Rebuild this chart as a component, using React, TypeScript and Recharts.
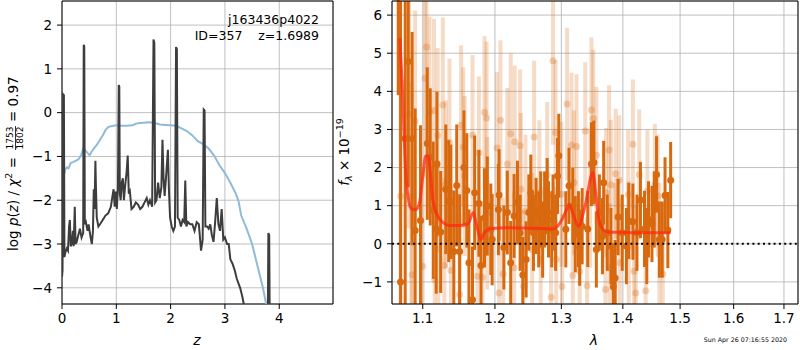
import React from "react";
import {
  LineChart,
  ComposedChart,
  Line,
  Scatter,
  ErrorBar,
  XAxis,
  YAxis,
  CartesianGrid,
  ReferenceLine,
  ReferenceArea,
} from "recharts";

const FONT = "'DejaVu Sans', sans-serif";
const ORANGE = "#d9690f";
const GRID = "#b0b0b0";

// left panel: [z, log p(z)]
const PZ_CURVE: [number, number][] = [
  [0.0, -3.75], [0.01, -3.6], [0.02, 0.42], [0.035, 0.4], [0.045, -3.3], [0.06, -3.2],
  [0.09, -3.1], [0.11, -3.15], [0.13, -2.6], [0.145, -2.45], [0.16, -3.05], [0.18, -3.0],
  [0.2, -2.7], [0.215, -3.05], [0.235, -2.15], [0.25, -3.0], [0.27, -2.95], [0.3, -2.8],
  [0.33, -2.65], [0.36, -2.85], [0.39, -2.75], [0.4, 1.55], [0.41, 1.5], [0.42, -2.55],
  [0.44, -2.5], [0.47, -2.7], [0.49, -2.55], [0.52, -2.8], [0.55, -3.0], [0.57, -2.7],
  [0.585, -1.75], [0.6, -2.2], [0.615, -1.1], [0.625, -1.7], [0.64, -2.4], [0.67, -2.6],
  [0.7, -2.55], [0.75, -2.45], [0.8, -2.35], [0.85, -2.3], [0.9, -2.15], [0.93, -1.9],
  [0.95, -1.75], [0.97, -2.15], [0.99, -1.8], [1.01, -2.2], [1.03, -1.7], [1.045, 0.63],
  [1.055, 0.6], [1.065, -1.85], [1.08, -2.0], [1.1, -1.6], [1.12, -1.5], [1.14, -2.0],
  [1.16, -1.7], [1.19, -1.35], [1.21, -0.98], [1.23, -1.85], [1.25, -1.8], [1.28, -2.2],
  [1.32, -2.15], [1.36, -2.05], [1.4, -2.1], [1.44, -2.2], [1.48, -2.15], [1.52, -2.05],
  [1.56, -1.95], [1.59, -2.1], [1.62, -2.0], [1.66, -2.15], [1.685, 1.67], [1.7, 1.6],
  [1.715, -2.05], [1.74, -2.0], [1.77, -1.6], [1.8, -1.95], [1.83, -1.7], [1.85, -0.62],
  [1.87, -1.5], [1.89, -1.9], [1.92, -1.4], [1.95, -0.85], [1.97, -1.8], [1.99, -2.4],
  [2.02, -2.6], [2.05, -2.7], [2.08, -2.6], [2.1, 1.5], [2.115, 1.45], [2.13, -2.4],
  [2.16, -2.45], [2.19, -2.6], [2.22, -2.45], [2.25, -2.5], [2.27, -1.55], [2.29, -2.6],
  [2.32, -2.5], [2.36, -2.55], [2.4, -2.55], [2.44, -2.7], [2.48, -2.5], [2.52, -2.55],
  [2.56, -3.15], [2.59, -2.9], [2.61, 0.07], [2.625, 0.05], [2.64, -2.6], [2.67, -2.6],
  [2.7, -2.65], [2.73, -2.55], [2.76, -2.8], [2.79, -2.95], [2.82, -2.5], [2.85, -1.95],
  [2.88, -2.55], [2.91, -2.7], [2.94, -2.2], [2.97, -2.9], [3.0, -2.85], [3.04, -3.0],
  [3.07, -3.0], [3.1, -3.35], [3.14, -3.45], [3.18, -3.6], [3.22, -3.8], [3.28, -4.0],
  [3.32, -4.2], [3.36, -4.45], [3.4, -4.7], [3.79, -4.7], [3.8, -2.75], [3.815, -2.8],
  [3.825, -4.7],
];

// left panel: [z, scaled chi2]
const CHI2_CURVE: [number, number][] = [
  [0.0, -1.95], [0.01, -1.75], [0.03, -1.45], [0.06, -1.3], [0.09, -1.25], [0.12, -1.27],
  [0.16, -1.15], [0.2, -1.13], [0.25, -1.1], [0.3, -1.07], [0.35, -0.98], [0.39, -0.82],
  [0.42, -0.85], [0.47, -0.92], [0.51, -0.97], [0.55, -0.88], [0.6, -0.8], [0.65, -0.72],
  [0.7, -0.62], [0.75, -0.52], [0.8, -0.4], [0.85, -0.33], [0.9, -0.31], [1.0, -0.29],
  [1.1, -0.3], [1.2, -0.3], [1.3, -0.29], [1.35, -0.26], [1.4, -0.24], [1.5, -0.23],
  [1.6, -0.22], [1.7, -0.23], [1.8, -0.27], [1.9, -0.28], [2.0, -0.29], [2.1, -0.3],
  [2.2, -0.36], [2.3, -0.42], [2.4, -0.52], [2.5, -0.65], [2.6, -0.72], [2.7, -0.82],
  [2.8, -0.98], [2.9, -1.2], [3.0, -1.38], [3.1, -1.6], [3.2, -1.85], [3.25, -2.02],
  [3.3, -2.35], [3.4, -2.65], [3.5, -3.0], [3.6, -3.5], [3.7, -4.0], [3.78, -4.5],
];

const Z_TICKS = [0, 1, 2, 3, 4];
const LOGP_TICKS = [-4, -3, -2, -1, 0, 1, 2];
const LAM_TICKS = [1.1, 1.2, 1.3, 1.4, 1.5, 1.6, 1.7];
const FLUX_TICKS = [-1, 0, 1, 2, 3, 4, 5, 6];

// right panel, fitted spectrum: [lambda, flux, err]
const SPEC_MAIN: [number, number, number][] = [
  [1.068, 6.5, 2.6], [1.071, -1.0, 7.5], [1.077, 2.76, 4.5], [1.081, 4.78, 3.3],
  [1.086, 2.76, 2.8], [1.09, 0.35, 3.2], [1.097, 0.61, 2.5], [1.106, 2.63, 2.0],
  [1.11, 2.28, 1.8], [1.114, 0.88, 1.8], [1.118, 0.39, 1.7], [1.119, 2.09, 1.9],
  [1.124, 0.31, 1.6], [1.131, 1.43, 1.7], [1.135, 1.12, 1.6], [1.138, 1.1, 1.5],
  [1.142, -0.2, 1.6], [1.146, 1.53, 1.6], [1.15, -0.2, 1.5], [1.156, 2.0, 1.5],
  [1.16, 1.4, 1.5], [1.163, -0.5, 1.4], [1.168, -1.47, 1.4], [1.171, 1.34, 1.5],
  [1.177, 1.06, 1.4], [1.18, -0.57, 1.3], [1.185, 0.68, 1.3], [1.189, 0.99, 1.3],
  [1.194, 0.38, 1.2], [1.196, 0.11, 1.2], [1.205, 0.9, 1.2], [1.206, 1.28, 1.2],
  [1.213, -0.1, 1.1], [1.218, 0.82, 1.1], [1.223, -0.5, 1.1], [1.228, 0.73, 1.1],
  [1.233, 1.08, 1.1], [1.237, 0.29, 1.0], [1.241, -0.82, 1.0], [1.246, -0.41, 1.0],
  [1.25, 0.82, 1.0], [1.253, 1.34, 1.0], [1.257, 0.29, 1.0], [1.261, 0.73, 1.0],
  [1.265, 0.38, 1.0], [1.268, 0.9, 1.0], [1.271, 0.11, 1.0], [1.274, 0.9, 1.0],
  [1.278, 1.25, 1.0], [1.28, 0.64, 1.0], [1.285, 0.38, 1.0], [1.287, 0.82, 1.0],
  [1.291, 0.29, 1.0], [1.294, 1.78, 1.0], [1.296, 2.31, 1.1], [1.307, 0.38, 1.0],
  [1.312, 1.52, 1.0], [1.318, 0.99, 1.0], [1.322, 0.25, 1.0], [1.327, 0.38, 1.0],
  [1.329, -0.1, 1.0], [1.333, 0.46, 1.0], [1.342, 0.39, 1.0], [1.348, 2.09, 1.1],
  [1.352, 2.13, 1.1], [1.356, -0.15, 1.0], [1.361, 0.82, 1.0], [1.366, 0.2, 1.0],
  [1.368, 1.6, 1.1], [1.374, 0.29, 1.0], [1.38, -0.06, 1.0], [1.384, -1.13, 1.0],
  [1.387, -0.9, 1.0], [1.392, 0.7, 1.0], [1.399, 0.29, 1.0], [1.406, -0.06, 1.0],
  [1.41, 0.6, 1.0], [1.417, 0.58, 1.0], [1.424, 0.29, 1.0], [1.43, 1.15, 1.0],
  [1.437, 0.39, 1.0], [1.441, -0.06, 1.0], [1.444, 0.64, 1.0], [1.45, 0.52, 1.0],
  [1.454, 0.9, 1.0], [1.458, 1.82, 1.0], [1.463, 0.11, 1.0], [1.468, 0.11, 1.0],
  [1.473, 1.27, 1.0], [1.478, 0.36, 1.0], [1.483, 1.67, 1.0],
];

// right panel, faint spectrum: [lambda, flux, err]
const SPEC_FAINT: [number, number, number][] = [
  [1.071, 1.25, 3.5], [1.082, 3.4, 3.0], [1.085, 1.25, 3.0], [1.086, -0.81, 3.0],
  [1.09, 3.22, 2.9], [1.1, -0.59, 2.6], [1.103, 4.34, 2.6], [1.105, 5.16, 2.6],
  [1.109, 3.46, 2.5], [1.115, 3.5, 2.4], [1.116, -0.94, 2.4], [1.12, 2.84, 2.3],
  [1.121, -0.13, 2.3], [1.127, 3.64, 2.3], [1.129, -0.57, 2.3], [1.131, 1.56, 2.2],
  [1.136, 2.66, 2.2], [1.138, -0.7, 2.2], [1.15, -1.33, 2.1], [1.152, 3.11, 2.1],
  [1.155, 2.53, 2.1], [1.157, 1.78, 2.1], [1.168, 2.85, 2.1], [1.175, -0.85, 2.0],
  [1.177, 2.39, 2.0], [1.182, -0.88, 2.0], [1.185, 3.45, 2.0], [1.188, 3.3, 2.0],
  [1.189, 0.8, 2.0], [1.203, 2.51, 2.0], [1.206, -1.29, 2.0], [1.208, 3.24, 2.1],
  [1.212, -0.79, 2.0], [1.218, 2.09, 2.0], [1.223, 2.89, 2.1], [1.228, -0.63, 2.0],
  [1.229, 2.68, 2.0], [1.237, 2.57, 2.0], [1.238, 1.43, 2.0], [1.242, -1.12, 2.0],
  [1.245, 0.86, 2.0], [1.255, -0.15, 2.0], [1.258, 2.8, 2.0], [1.266, 1.34, 1.9],
  [1.268, -0.41, 1.9], [1.278, 1.82, 1.9], [1.284, -1.4, 1.9], [1.287, 4.8, 2.2],
  [1.291, 2.92, 1.9], [1.292, -0.41, 1.9], [1.3, 1.3, 1.9], [1.301, -1.12, 1.9],
  [1.309, 3.67, 2.0], [1.316, 2.59, 1.9], [1.318, -0.83, 1.9], [1.32, 1.6, 1.9],
  [1.324, 2.55, 1.9], [1.329, -0.72, 1.9], [1.338, 2.96, 1.8], [1.341, -1.1, 1.8],
  [1.346, 1.17, 1.8], [1.348, 3.51, 1.9], [1.351, 3.29, 1.8], [1.356, 2.32, 1.8],
  [1.371, -1.2, 1.7], [1.372, 1.34, 1.7], [1.377, 2.46, 1.7], [1.378, -0.63, 1.7],
  [1.38, 1.55, 1.7], [1.387, -0.1, 1.7], [1.388, 1.84, 1.7], [1.394, 1.67, 1.7],
  [1.395, -0.5, 1.7], [1.409, 1.29, 1.7], [1.41, -0.06, 1.7], [1.417, 2.61, 1.7],
  [1.419, -0.72, 1.7], [1.422, -1.29, 1.7], [1.428, 1.82, 1.7], [1.439, -1.23, 1.6],
  [1.442, 1.38, 1.6], [1.455, 1.55, 1.6], [1.46, 1.26, 1.6], [1.463, 0.0, 1.6],
  [1.469, -0.79, 1.6],
];

// right panel, best-fit model: [lambda, flux]
const MODEL: [number, number][] = [
  [1.07, 5.4], [1.072, 4.6], [1.074, 3.8], [1.077, 2.1], [1.081, 1.2], [1.085, 0.92],
  [1.091, 0.9], [1.096, 1.1], [1.1, 1.75], [1.104, 2.3], [1.107, 2.3], [1.11, 1.9],
  [1.113, 1.2], [1.118, 0.82], [1.127, 0.56], [1.136, 0.48], [1.15, 0.48], [1.162, 0.53],
  [1.169, 0.82], [1.173, 0.55], [1.18, 0.12], [1.185, 0.3], [1.194, 0.4], [1.22, 0.42],
  [1.25, 0.41], [1.27, 0.4], [1.288, 0.39], [1.298, 0.55], [1.307, 0.85], [1.312, 1.03],
  [1.318, 0.8], [1.325, 0.5], [1.327, 0.46], [1.335, 0.82], [1.341, 1.25], [1.346, 1.69],
  [1.35, 1.87], [1.355, 1.34], [1.36, 0.64], [1.368, 0.36], [1.377, 0.31], [1.4, 0.3],
  [1.44, 0.29], [1.483, 0.29],
];

const Z_DOMAIN: [number, number] = [0, 4.99];
const LOGP_DOMAIN: [number, number] = [-4.37, 2.55];
const LAM_DOMAIN: [number, number] = [1.06, 1.729];
const FLUX_DOMAIN: [number, number] = [-1.58, 6.37];

// error bars are cut at the frame, like matplotlib's clipping
const clipErr = (f: number, e: number) => [
  Math.max(0, Math.min(e, f - FLUX_DOMAIN[0])),
  Math.max(0, Math.min(e, FLUX_DOMAIN[1] - f)),
];

const pz = PZ_CURVE.map(([z, v]) => ({ z, v }));
const chi2 = CHI2_CURVE.map(([z, v]) => ({ z, v }));
const specMain = SPEC_MAIN.map(([w, f, e]) => ({ w, f, e: clipErr(f, e) }));
const specFaint = SPEC_FAINT.map(([w, f, e]) => ({ w, f, e: clipErr(f, e) }));
const model = MODEL.map(([w, f]) => ({ w, f }));

const minus = (v: number) => String(v).replace("-", "\u2212");
const tickStyle = { fill: "#000", fontSize: 13.5, fontFamily: FONT };
const tickLine = { stroke: "#000", strokeWidth: 1 };

const mainDot = (p: any) => <circle cx={p.cx} cy={p.cy} r={3.5} fill={ORANGE} />;
const faintDot = (p: any) => (
  <circle cx={p.cx} cy={p.cy} r={3.5} fill={ORANGE} fillOpacity={0.28} />
);

const SPEC_MARGIN = { top: 1, right: 2, bottom: 16, left: 0 };

// shared axes of the spectrum panel; `bare` gives the invisible copy used by the overlay
const specAxes = (bare: boolean) => [
  <XAxis
    key="x"
    type="number"
    dataKey="w"
    scale="log"
    domain={LAM_DOMAIN}
    ticks={LAM_TICKS}
    interval={0}
    allowDataOverflow
    height={30}
    tickSize={5}
    tickMargin={4}
    tick={bare ? false : tickStyle}
    tickLine={bare ? false : tickLine}
    tickFormatter={(v: number) => v.toFixed(1)}
    axisLine={false}
  />,
  <YAxis
    key="y"
    type="number"
    dataKey="f"
    domain={FLUX_DOMAIN}
    ticks={FLUX_TICKS}
    interval={0}
    allowDataOverflow
    width={52}
    tickSize={5}
    tickMargin={5}
    tick={bare ? false : tickStyle}
    tickLine={bare ? false : tickLine}
    tickFormatter={minus}
    axisLine={false}
  />,
];

export default function App() {
  return (
    <div
      style={{
        position: "absolute",
        left: 0,
        top: 0,
        width: 800,
        height: 350,
        background: "#fff",
        overflow: "hidden",
      }}
    >
      <div style={{ position: "absolute", left: 0, top: 0 }}>
        <LineChart width={340} height={350} margin={{ top: 1, right: 7, bottom: 16, left: 0 }}>
          <CartesianGrid stroke={GRID} strokeWidth={0.8} />
          <XAxis
            type="number"
            dataKey="z"
            domain={Z_DOMAIN}
            ticks={Z_TICKS}
            interval={0}
            allowDataOverflow
            height={30}
            tickSize={5}
            tickMargin={4}
            tick={tickStyle}
            tickLine={tickLine}
            axisLine={false}
          />
          <YAxis
            type="number"
            domain={LOGP_DOMAIN}
            ticks={LOGP_TICKS}
            interval={0}
            allowDataOverflow
            width={62}
            tickSize={5}
            tickMargin={5}
            tick={tickStyle}
            tickLine={tickLine}
            tickFormatter={minus}
            axisLine={false}
          />
          <Line
            data={chi2}
            dataKey="v"
            type="linear"
            stroke="#8fbbd9"
            strokeWidth={2}
            dot={false}
            isAnimationActive={false}
          />
          <Line
            data={pz}
            dataKey="v"
            type="linear"
            stroke="#3d3d3d"
            strokeWidth={2}
            dot={false}
            isAnimationActive={false}
          />
          <ReferenceArea
            x1={Z_DOMAIN[0]}
            x2={Z_DOMAIN[1]}
            y1={LOGP_DOMAIN[0]}
            y2={LOGP_DOMAIN[1]}
            fill="none"
            stroke="#000"
            strokeWidth={1}
            ifOverflow="visible"
          />
        </LineChart>
      </div>

      <div style={{ position: "absolute", left: 340, top: 0 }}>
        <ComposedChart width={460} height={350} margin={SPEC_MARGIN}>
          <CartesianGrid stroke={GRID} strokeWidth={0.8} />
          {specAxes(false)}
          <Scatter data={specFaint} dataKey="f" shape={faintDot} isAnimationActive={false}>
            <ErrorBar
              dataKey="e"
              direction="y"
              width={0}
              stroke={ORANGE}
              strokeOpacity={0.24}
              strokeWidth={4}
            />
          </Scatter>
          <Scatter data={specMain} dataKey="f" shape={mainDot} isAnimationActive={false}>
            <ErrorBar dataKey="e" direction="y" width={0} stroke={ORANGE} strokeWidth={3} />
          </Scatter>
        </ComposedChart>
      </div>

      {/* overlay with the same axes so the model and zero line sit above the error bars */}
      <div style={{ position: "absolute", left: 340, top: 0 }}>
        <ComposedChart width={460} height={350} margin={SPEC_MARGIN}>
          {specAxes(true)}
          <Line
            data={model}
            dataKey="f"
            type="monotone"
            stroke="#ff2a12"
            strokeOpacity={0.75}
            strokeWidth={3}
            dot={false}
            isAnimationActive={false}
          />
          <ReferenceLine y={0} stroke="#000" strokeWidth={2} strokeDasharray="2 3.3" />
          <ReferenceArea
            x1={LAM_DOMAIN[0]}
            x2={LAM_DOMAIN[1]}
            y1={FLUX_DOMAIN[0]}
            y2={FLUX_DOMAIN[1]}
            fill="none"
            stroke="#000"
            strokeWidth={1}
            ifOverflow="visible"
          />
        </ComposedChart>
      </div>

      <svg
        width={800}
        height={350}
        style={{ position: "absolute", left: 0, top: 0, pointerEvents: "none" }}
        fontFamily={FONT}
        fill="#000"
      >
        <text x={319} y={24} textAnchor="end" fontSize={12.5}>
          j163436p4022
        </text>
        <text x={319} y={40} textAnchor="end" fontSize={12.5} xmlSpace="preserve">
          {"ID=357    z=1.6989"}
        </text>

        <g transform="rotate(-90)">
          <text x={-157} y={18} textAnchor="end" fontSize={13.5}>
            log <tspan fontStyle="italic">p</tspan>(<tspan fontStyle="italic">z</tspan>) /{" "}
            <tspan fontStyle="italic">χ</tspan>
            <tspan fontSize={9.5} dy={-6}>2</tspan>
            <tspan dy={6}> =</tspan>
          </text>
          <text x={-138} y={13} textAnchor="middle" fontSize={9}>
            1753
          </text>
          <line x1={-150} x2={-126} y1={15.5} y2={15.5} stroke="#000" strokeWidth={0.8} />
          <text x={-138} y={23} textAnchor="middle" fontSize={9}>
            1802
          </text>
          <text x={-122} y={18} textAnchor="start" fontSize={13.5}>
            = 0.97
          </text>

          <text x={-152} y={349} textAnchor="middle" fontSize={13.5}>
            <tspan fontStyle="italic">f</tspan>
            <tspan fontSize={9.5} dy={3} fontStyle="italic">λ</tspan>
            <tspan dy={-3}> × 10</tspan>
            <tspan fontSize={9.5} dy={-6}>−19</tspan>
          </text>
        </g>

        <text x={197} y={345} textAnchor="middle" fontSize={14} fontStyle="italic">
          z
        </text>
        <text x={594} y={345} textAnchor="middle" fontSize={14} fontStyle="italic">
          λ
        </text>
        <text x={787} y={342} textAnchor="end" fontSize={6.3}>
          Sun Apr 26 07:16:55 2020
        </text>
      </svg>
    </div>
  );
}
